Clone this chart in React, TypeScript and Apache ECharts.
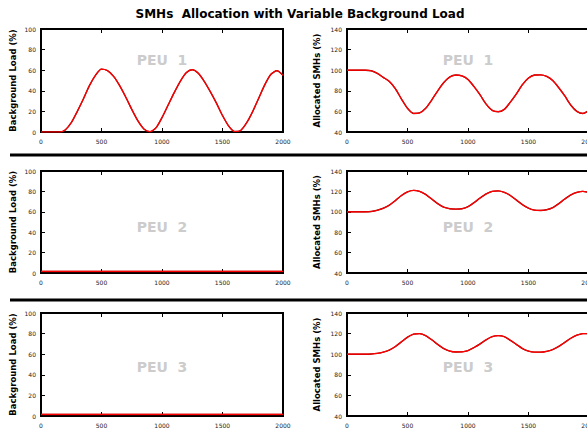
import React, { useEffect, useRef } from "react";
import * as echarts from "echarts";

const xs = [0, 50, 100, 150, 200, 250, 300, 350, 400, 450, 500, 550, 600, 650, 700, 750, 800, 850, 900, 950, 1000, 1050, 1100, 1150, 1200, 1250, 1300, 1350, 1400, 1450, 1500, 1550, 1600, 1650, 1700, 1750, 1800, 1850, 1900, 1950, 2000];

const load1 = [0, 0, 0, 0, 2, 9, 20, 32, 45, 55, 61, 59.5, 54, 45, 34, 22, 11, 3, 0.3, 4, 14, 26, 38, 49, 57.5, 60.5, 57, 49, 39, 28, 16, 6, 0.5, 1.5, 9, 20, 33, 46, 56, 59.5, 55];
const load2 = [1.5, 1.5, 1.5, 1.5, 1.5, 1.5, 1.5, 1.5, 1.5, 1.5, 1.5, 1.5, 1.5, 1.5, 1.5, 1.5, 1.5, 1.5, 1.5, 1.5, 1.5, 1.5, 1.5, 1.5, 1.5, 1.5, 1.5, 1.5, 1.5, 1.5, 1.5, 1.5, 1.5, 1.5, 1.5, 1.5, 1.5, 1.5, 1.5, 1.5, 1.5];
const load3 = [1.5, 1.5, 1.5, 1.5, 1.5, 1.5, 1.5, 1.5, 1.5, 1.5, 1.5, 1.5, 1.5, 1.5, 1.5, 1.5, 1.5, 1.5, 1.5, 1.5, 1.5, 1.5, 1.5, 1.5, 1.5, 1.5, 1.5, 1.5, 1.5, 1.5, 1.5, 1.5, 1.5, 1.5, 1.5, 1.5, 1.5, 1.5, 1.5, 1.5, 1.5];

const alloc1 = [100, 100, 100, 100, 99.5, 97, 93, 89, 82, 72, 63, 58, 58.5, 63, 71, 80, 88, 93.5, 95.3, 94.5, 91, 84, 76, 67, 61, 59.7, 62, 69, 77, 86, 92.5, 95.3, 95.5, 94, 90, 83, 75, 66, 60, 58, 61];
const alloc2 = [100, 100, 100, 100, 100.3, 101.5, 103.5, 106.5, 111, 116, 119.5, 121, 120, 117, 112.5, 108, 104.5, 103, 102.6, 103, 105, 109, 113.5, 117.5, 120, 120.5, 119, 116, 111.5, 107, 103.5, 101.6, 101.3, 102, 104, 108, 112.5, 116.5, 119, 120, 119];
const alloc3 = [100, 100, 100, 100, 100.2, 100.8, 102, 104, 107.5, 112, 116.5, 119.5, 120, 118, 114, 109.5, 105.5, 103, 102.2, 102.3, 103.5, 106.5, 110, 114, 117, 118, 117, 113.5, 109.5, 105.5, 103, 102, 102, 102.8, 104.5, 107.5, 111.5, 115.5, 118.5, 120, 120];

const peuLabels = ["PEU  1", "PEU  2", "PEU  3"];
const titleText = "SMHs  Allocation with Variable Background Load";
const leftName = "Background Load (%)";
const rightName = "Allocated SMHs (%)";

const FONT = "DejaVu Sans";

export default function App() {
  const ref = useRef<HTMLDivElement>(null);
  useEffect(() => {
    document.body.style.margin = "0";
    document.body.style.overflow = "hidden";
    const chart = echarts.init(ref.current!, null, { renderer: "svg" });
    const rows = [
      { top: 29, height: 103 },
      { top: 171, height: 102 },
      { top: 313, height: 103 },
    ];
    const cols = [
      { left: 41, width: 242 },
      { left: 347, width: 242 },
    ];
    const panels = [
      { data: load1, col: 0, row: 0 },
      { data: alloc1, col: 1, row: 0 },
      { data: load2, col: 0, row: 1 },
      { data: alloc2, col: 1, row: 1 },
      { data: load3, col: 0, row: 2 },
      { data: alloc3, col: 1, row: 2 },
    ];
    const grid: any[] = [];
    const xAxis: any[] = [];
    const yAxis: any[] = [];
    const series: any[] = [];
    const tick = { show: true, inside: true, length: 4, lineStyle: { color: "#000", width: 1 } };
    panels.forEach((p, i) => {
      grid.push({
        left: cols[p.col].left,
        top: rows[p.row].top,
        width: cols[p.col].width,
        height: rows[p.row].height,
        show: true,
        borderColor: "#000",
        borderWidth: 2,
        backgroundColor: "transparent",
      });
      const common = {
        gridIndex: i,
        type: "value",
        min: 0,
        max: 2000,
        interval: 500,
        splitLine: { show: false },
        axisLine: { show: false },
      };
      xAxis.push({
        ...common,
        position: "bottom",
        axisTick: tick,
        axisLabel: { fontSize: 6, color: "#222", fontFamily: FONT, margin: 6, formatter: (v: number) => String(v) },
      });
      xAxis.push({
        ...common,
        position: "top",
        axisTick: tick,
        axisLabel: { show: false },
      });
      const isLeft = p.col === 0;
      yAxis.push({
        gridIndex: i,
        type: "value",
        min: isLeft ? 0 : 40,
        max: isLeft ? 100 : 140,
        interval: 20,
        splitLine: { show: false },
        axisLine: { show: false },
        axisTick: tick,
        axisLabel: { fontSize: 6, color: "#222", fontFamily: FONT, margin: 5, formatter: (v: number) => String(v) },
        name: isLeft ? leftName : rightName,
        nameLocation: "middle",
        nameGap: isLeft ? 23.5 : 26,
        nameTextStyle: { fontSize: 8.5, fontWeight: "bold", color: "#000", fontFamily: FONT },
      });
      const pts = xs.map((x, k) => [x, p.data[k]]);
      series.push({
        type: "line",
        xAxisIndex: i * 2,
        yAxisIndex: i,
        data: pts,
        smooth: 0.25,
        showSymbol: false,
        lineStyle: { color: "#900000", width: 1.4 },
        silent: true,
      });
      series.push({
        type: "line",
        xAxisIndex: i * 2,
        yAxisIndex: i,
        data: pts,
        smooth: 0.25,
        showSymbol: false,
        lineStyle: { color: "#ff0000", width: 1.2 },
        silent: true,
      });
    });

    const peuCenters = [
      { x: 162, y: 60 },
      { x: 468, y: 60 },
      { x: 162, y: 227 },
      { x: 468, y: 227 },
      { x: 162, y: 367 },
      { x: 468, y: 367 },
    ];
    const graphic: any[] = peuCenters.map((c, i) => ({
      type: "text",
      x: c.x,
      y: c.y,
      z: 1,
      style: {
        text: peuLabels[Math.floor(i / 2)],
        fill: "#cccccc",
        font: `bold 14px "${FONT}"`,
        textAlign: "center",
        textVerticalAlign: "middle",
      },
    }));
    graphic.push({ type: "rect", shape: { x: 10, y: 153.5, width: 590, height: 3 }, style: { fill: "#000" } });
    graphic.push({ type: "rect", shape: { x: 10, y: 298.5, width: 590, height: 3 }, style: { fill: "#000" } });

    chart.setOption({
      animation: false,
      backgroundColor: "#fff",
      title: {
        text: titleText,
        left: "center",
        top: 3,
        textStyle: { fontSize: 12, fontWeight: "bold", color: "#000", fontFamily: FONT },
      },
      grid,
      xAxis,
      yAxis,
      series,
      graphic,
    });
    return () => chart.dispose();
  }, []);
  return <div ref={ref} style={{ width: 600, height: 432 }} />;
}
